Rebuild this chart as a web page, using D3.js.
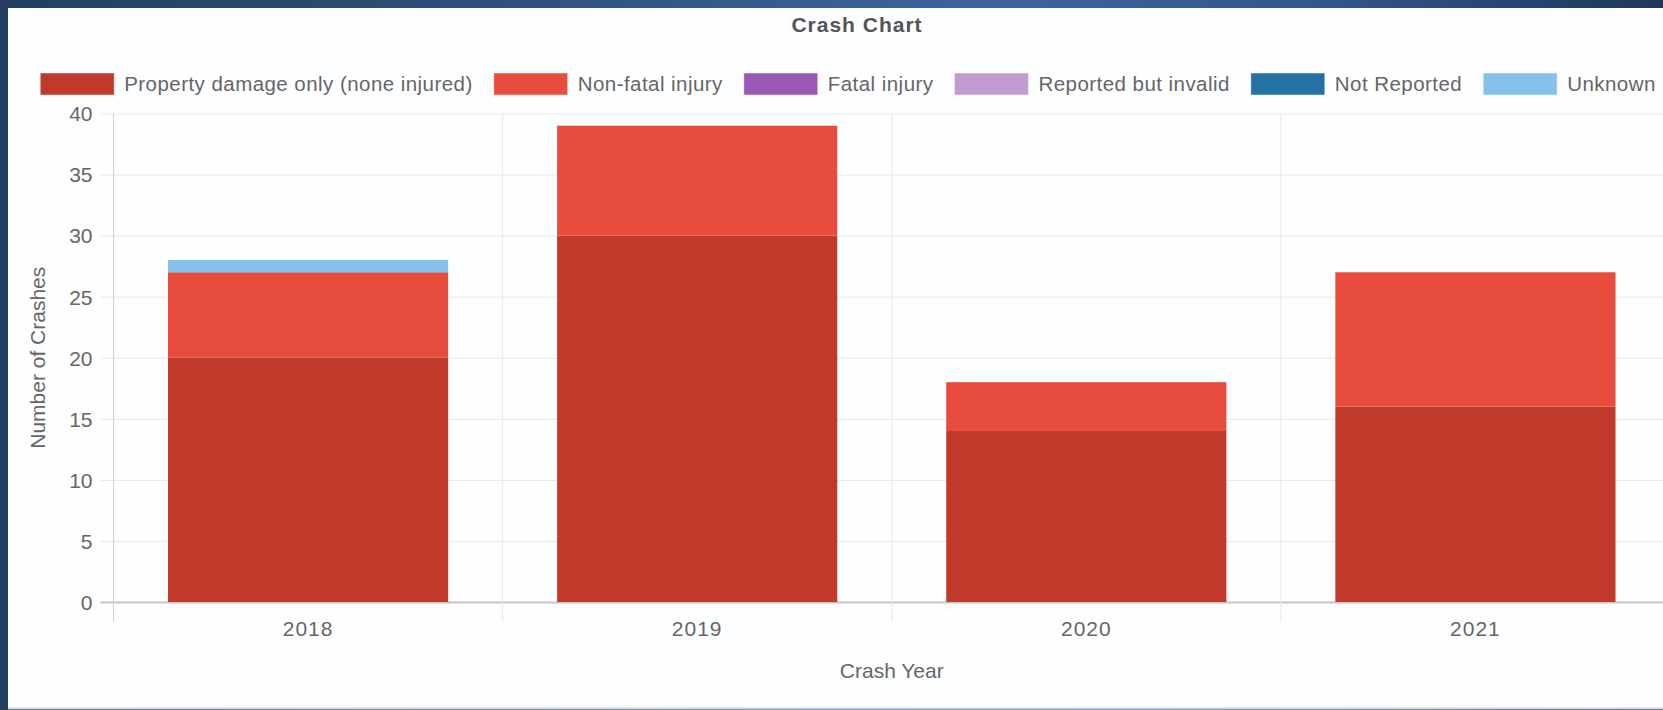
<!DOCTYPE html>
<html>
<head>
<meta charset="utf-8">
<script src="https://cdn.jsdelivr.net/npm/d3@7"></script>
<style>
  body {
    margin: 0;
    width: 1663px;
    height: 710px;
    overflow: hidden;
    background: linear-gradient(90deg, #223f60 0%, #2f507a 30%, #4063a0 60%, #34558a 80%, #1f365c 100%);
  }
  svg { display: block; font-family: "Liberation Sans", Arial, sans-serif; }
</style>
</head>
<body>
<script>
const years = ['2018', '2019', '2020', '2021'];

const seriesNames = [
  'Property damage only (none injured)',
  'Non-fatal injury',
  'Fatal injury',
  'Reported but invalid',
  'Not Reported',
  'Unknown'
];
const seriesColors = ['#c0392b', '#e74c3c', '#9b59b6', '#c39bd3', '#2471a3', '#85c1e9'];

const propertyDamage = [20, 30, 14, 16];
const nonFatal = [7, 9, 4, 11];
const fatal = [0, 0, 0, 0];
const reportedInvalid = [0, 0, 0, 0];
const notReported = [0, 0, 0, 0];
const unknown = [1, 0, 0, 0];

const yTicks = [0, 5, 10, 15, 20, 25, 30, 35, 40];

const seriesValues = [propertyDamage, nonFatal, fatal, reportedInvalid, notReported, unknown];

const width = 1663;
const height = 710;
const plot = { left: 113.5, right: 1670, top: 113.5, bottom: 602 };

const svg = d3.select('body')
  .append('svg')
  .attr('width', width)
  .attr('height', height);

// white chart panel
svg.append('rect')
  .attr('x', 8).attr('y', 8)
  .attr('width', width).attr('height', 700)
  .attr('fill', '#fdfeff');
svg.append('line')
  .attr('x1', 8).attr('x2', width)
  .attr('y1', 708.5).attr('y2', 708.5)
  .attr('stroke', '#c9d6e2').attr('stroke-width', 2);

const x = d3.scaleBand()
  .domain(years)
  .range([plot.left, plot.right]);

const y = d3.scaleLinear()
  .domain([0, 40])
  .range([plot.bottom, plot.top]);

// horizontal grid + y labels
const yAxis = svg.append('g')
  .attr('transform', `translate(${plot.left},0)`)
  .call(d3.axisLeft(y).tickValues(yTicks).tickSize(-(plot.right - plot.left)).tickSizeOuter(0));
yAxis.select('.domain').remove();
yAxis.selectAll('.tick line')
  .attr('x1', -13)
  .attr('stroke', d => d === 0 ? '#c4c4c4' : '#e8e8e8')
  .attr('stroke-width', d => d === 0 ? 2 : 1);
yAxis.selectAll('.tick text')
  .attr('x', -21)
  .attr('dy', '0.35em')
  .attr('fill', '#666')
  .attr('font-size', 21);

// vertical grid lines at category edges
const edges = years.map(d => x(d)).concat([plot.right]);
svg.selectAll('.vgrid')
  .data(edges)
  .enter()
  .append('line')
  .attr('class', 'vgrid')
  .attr('x1', d => d).attr('x2', d => d)
  .attr('y1', plot.top).attr('y2', plot.bottom + 20)
  .attr('stroke', (d, i) => i === 0 ? '#d0d0d0' : '#e8e8e8')
  .attr('stroke-width', 1);

// stacked bars
const table = years.map((yr, i) => {
  const row = { year: yr };
  seriesNames.forEach((s, j) => { row[s] = seriesValues[j][i]; });
  return row;
});
const stacked = d3.stack().keys(seriesNames)(table);

const barW = x.bandwidth() * 0.72;
const layers = svg.selectAll('.layer')
  .data(stacked)
  .enter()
  .append('g')
  .attr('class', 'layer')
  .attr('fill', (d, i) => seriesColors[i]);

layers.selectAll('rect')
  .data(d => d.filter(p => p[1] - p[0] > 0))
  .enter()
  .append('rect')
  .attr('x', d => x(d.data.year) + (x.bandwidth() - barW) / 2)
  .attr('y', d => y(d[1]))
  .attr('width', barW)
  .attr('height', d => y(d[0]) - y(d[1]));

// x labels
svg.selectAll('.year')
  .data(years)
  .enter()
  .append('text')
  .attr('class', 'year')
  .text(d => d)
  .attr('x', d => x(d) + x.bandwidth() / 2)
  .attr('y', 629)
  .attr('dy', '0.35em')
  .attr('text-anchor', 'middle')
  .attr('fill', '#666')
  .attr('font-size', 21)
  .attr('letter-spacing', 1);

// axis titles
svg.append('text')
  .text('Crash Year')
  .attr('x', (plot.left + plot.right) / 2)
  .attr('y', 671)
  .attr('dy', '0.35em')
  .attr('text-anchor', 'middle')
  .attr('fill', '#666')
  .attr('font-size', 21);

svg.append('text')
  .text('Number of Crashes')
  .attr('transform', `translate(38,${(plot.top + plot.bottom) / 2}) rotate(-90)`)
  .attr('dy', '0.35em')
  .attr('text-anchor', 'middle')
  .attr('fill', '#666')
  .attr('font-size', 21);

// title
svg.append('text')
  .text('Crash Chart')
  .attr('x', 857)
  .attr('y', 25)
  .attr('dy', '0.35em')
  .attr('text-anchor', 'middle')
  .attr('fill', '#555')
  .attr('font-weight', 'bold')
  .attr('font-size', 21)
  .attr('letter-spacing', 1);

// legend
const legend = svg.append('g');
const items = legend.selectAll('g')
  .data(seriesNames)
  .enter()
  .append('g');
items.append('rect')
  .attr('width', 74).attr('height', 22)
  .attr('y', 73)
  .attr('fill', (d, i) => seriesColors[i])
  .attr('stroke', 'rgba(255,255,255,0.5)');
items.append('text')
  .text(d => d)
  .attr('x', 84)
  .attr('y', 84)
  .attr('dy', '0.35em')
  .attr('fill', '#666')
  .attr('font-size', 20.5)
  .attr('letter-spacing', 0.45);

const widths = [];
items.each(function() {
  widths.push(84 + this.querySelector('text').getComputedTextLength());
});
const gap = 21;
const total = d3.sum(widths) + gap * (widths.length - 1);
let cursor = 848 - total / 2;
items.attr('transform', (d, i) => {
  const tx = cursor;
  cursor += widths[i] + gap;
  return `translate(${tx},0)`;
});
</script>
</body>
</html>
